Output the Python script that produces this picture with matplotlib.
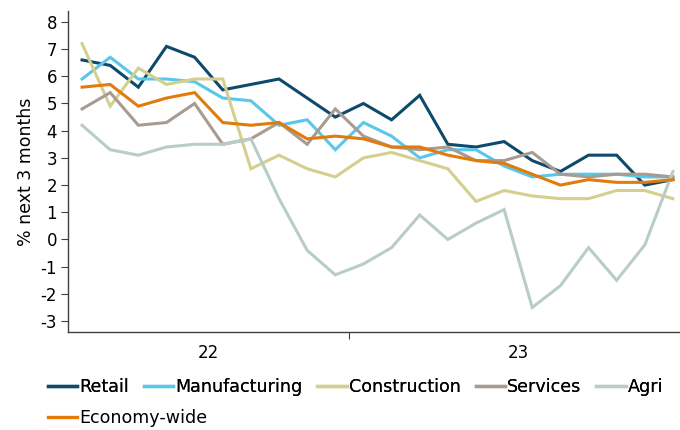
import matplotlib
matplotlib.use("Agg")
import matplotlib.pyplot as plt
from matplotlib.lines import Line2D

# monthly readings, Mar 22 .. Dec 23
retail = [6.6, 6.4, 5.6, 7.1, 6.7, 5.5, 5.7, 5.9, 5.2, 4.5, 5.0, 4.4, 5.3, 3.5, 3.4, 3.6, 2.9, 2.5, 3.1, 3.1, 2.0, 2.2]
manufacturing = [5.9, 6.7, 5.9, 5.9, 5.8, 5.2, 5.1, 4.2, 4.4, 3.3, 4.3, 3.8, 3.0, 3.3, 3.3, 2.7, 2.3, 2.4, 2.4, 2.4, 2.3, 2.3]
construction = [7.2, 4.9, 6.3, 5.7, 5.9, 5.9, 2.6, 3.1, 2.6, 2.3, 3.0, 3.2, 2.9, 2.6, 1.4, 1.8, 1.6, 1.5, 1.5, 1.8, 1.8, 1.5]
services = [4.8, 5.4, 4.2, 4.3, 5.0, 3.5, 3.7, 4.3, 3.5, 4.8, 3.8, 3.4, 3.3, 3.4, 2.9, 2.9, 3.2, 2.4, 2.3, 2.4, 2.4, 2.3]
agri = [4.2, 3.3, 3.1, 3.4, 3.5, 3.5, 3.7, 1.5, -0.4, -1.3, -0.9, -0.3, 0.9, 0.0, 0.6, 1.1, -2.5, -1.7, -0.3, -1.5, -0.2, 2.5]
economy = [5.6, 5.7, 4.9, 5.2, 5.4, 4.3, 4.2, 4.3, 3.7, 3.8, 3.7, 3.4, 3.4, 3.1, 2.9, 2.8, 2.4, 2.0, 2.2, 2.1, 2.1, 2.2]

years = ["22", "23"]
months_per_year = [10, 12]

names = ["Retail", "Manufacturing", "Construction", "Services", "Agri", "Economy-wide"]
colors = ["#0d4a6b", "#5ac6ea", "#d5cf8f", "#a89b91", "#b8cdc6", "#e07b0c"]
series = [retail, manufacturing, construction, services, agri, economy]

plt.rcParams["font.family"] = ["DejaVu Sans"]
plt.rcParams["font.size"] = 12
plt.rcParams["axes.unicode_minus"] = False

fig = plt.figure(figsize=(6.8, 4.3), dpi=100)
ax = fig.add_axes([0.1, 0.228, 0.9103, 0.7464])

x = list(range(len(retail)))
for vals, color, name in zip(series, colors, names):
    ax.plot(x, vals, color=color, lw=2.2, label=name, solid_joinstyle="miter")

ax.set_xlim(-0.5, len(retail) - 0.5)
ax.set_ylim(-3.4, 8.4)
ax.set_yticks(range(-3, 9))

# year separators as major ticks, year labels centred on each block
edges = [sum(months_per_year[:i + 1]) - 0.5 for i in range(len(years) - 1)]
centres = []
start = 0
for n in months_per_year:
    centres.append(start + (n - 1) / 2)
    start += n
ax.set_xticks(edges)
ax.set_xticklabels([])
ax.set_xticks(centres, minor=True)
ax.set_xticklabels(years, minor=True)
ax.tick_params(axis="x", which="major", length=5, color="#404040")
ax.tick_params(axis="x", which="minor", length=0, pad=9)
ax.tick_params(axis="y", length=5, pad=3, color="#404040")

for side in ["top", "right"]:
    ax.spines[side].set_visible(False)
for side in ["left", "bottom"]:
    ax.spines[side].set_color("#404040")
    ax.spines[side].set_linewidth(1.0)

ax.set_ylabel("% next 3 months", labelpad=4, fontsize=12.5)

# two legends: the reference flows entries left to right, wrapping the last one
handles = [Line2D([], [], color=c, lw=2.4) for c in colors]
leg_kw = dict(loc="center left", frameon=False, borderpad=0, borderaxespad=0,
              handlelength=1.7, handletextpad=0.1, fontsize=12.6)
leg1 = fig.legend(handles[:5], names[:5], bbox_to_anchor=(0.07, 0.1),
                  ncol=5, columnspacing=0.85, **leg_kw)
fig.legend(handles[5:], names[5:], bbox_to_anchor=(0.07, 0.028), **leg_kw)
fig.add_artist(leg1)

fig.savefig("out.png", dpi=100)
